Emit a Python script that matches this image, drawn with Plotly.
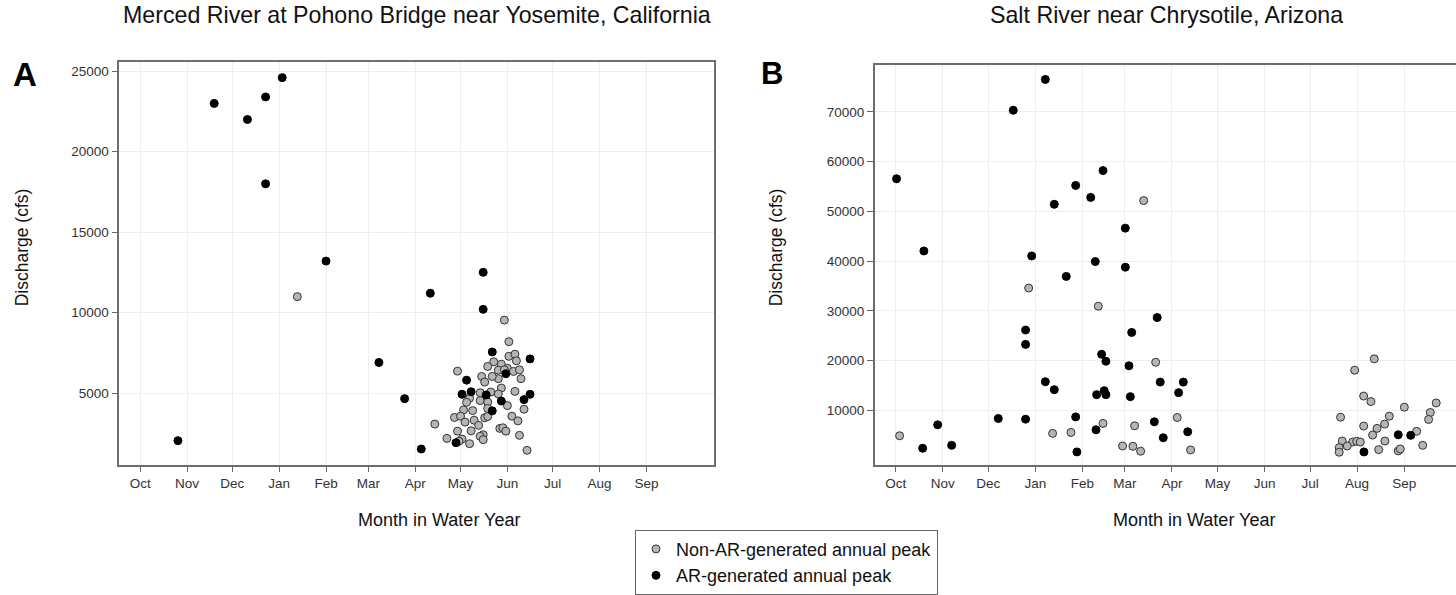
import plotly.graph_objects as go

# ---------------- data (x = day of water year, 0 = Oct 1) ----------------
month_labels = ["Oct", "Nov", "Dec", "Jan", "Feb", "Mar", "Apr", "May", "Jun", "Jul", "Aug", "Sep"]
month_start_days = [0, 31, 61, 92, 123, 151, 182, 212, 243, 273, 304, 335]

a_yticks = [5000, 10000, 15000, 20000, 25000]
b_yticks = [10000, 20000, 30000, 40000, 50000, 60000, 70000]

# Panel A: Merced River
a_ar_day = [25, 49, 71, 83, 83, 94, 123, 158, 175, 186, 192, 227, 227, 233, 258, 242, 216, 213,
            219, 229, 239, 233, 254, 258, 209]
a_ar_q = [2040, 23000, 22000, 23400, 18000, 24600, 13200, 6900, 4650, 1520, 11200, 12500, 10200,
          7550, 7120, 6200, 5800, 4920, 5080, 4880, 4500, 3890, 4590, 4920, 1910]

a_non_day = [104, 241, 244, 244, 248, 249, 234, 230, 239, 237, 243, 247, 251, 252, 210, 226, 228,
             237, 233, 239, 248, 237, 225, 232, 218, 216, 225, 230, 243, 254, 214, 220, 230, 208,
             212, 215, 221, 228, 230, 246, 250, 195, 224, 219, 227, 225, 227, 210, 203, 213, 211,
             238, 240, 242, 251, 218, 256, 241]
a_non_q = [10990, 9530, 8190, 7280, 7410, 7000, 6940, 6650, 6790, 6420, 6540, 6340, 6440, 5890,
           6360, 6030, 5680, 5890, 6030, 5310, 5100, 4940, 5020, 5060, 4670, 4420, 4530, 4440,
           4220, 3990, 3950, 3910, 4040, 3480, 3560, 3190, 3310, 3460, 3540, 3560, 3270, 3070,
           2990, 2650, 2410, 2310, 2100, 2630, 2180, 2140, 2000, 2800, 2840, 2630, 2370, 1850,
           1440, 6440]

# Panel B: Salt River
b_ar_day = [0.6, 18.6, 17.8, 27.7, 36.9, 67.6, 77.5, 85.6, 85.6, 85.6, 89.6, 98.6, 98.6, 104.5,
            104.5, 112.4, 118.6, 118.6, 119.4, 128.5, 131.5, 132.0, 135.7, 136.6, 138.5, 132.4,
            137.4, 138.5, 151.3, 151.3, 153.7, 154.6, 155.5, 170.4, 172.3, 174.3, 176.3, 186.4,
            189.5, 192.4, 308.5, 331.1, 339.3]
b_ar_q = [56570, 42060, 2420, 7130, 3010, 8400, 70340, 26170, 23290, 8260, 41060, 76530, 15790,
          51440, 14190, 36950, 55230, 8720, 1680, 52830, 39940, 6130, 21300, 58220, 19900, 13190,
          13990, 13190, 46650, 38800, 18980, 12790, 25690, 7730, 28680, 15710, 4530, 13590,
          15710, 5730, 1680, 5130, 5010]

b_non_day = [2.6, 87.6, 103.4, 115.5, 133.5, 136.6, 149.5, 156.3, 157.4, 161.4, 163.4, 171.3,
             185.5, 194.3, 315.3, 302.4, 308.3, 313.1, 335.1, 356.1, 352.2, 351.1, 293.1, 325.2,
             322.1, 308.3, 317.1, 314.2, 343.2, 322.3, 294.2, 301.1, 303.7, 306.1, 297.5, 292.2,
             292.2, 318.2, 331.1, 332.4, 347.2]
b_non_q = [4930, 34610, 5410, 5590, 30960, 7410, 2870, 2810, 6930, 1820, 52180, 19700, 8600, 2080,
           20380, 18100, 12910, 11800, 10660, 11520, 9600, 8200, 8660, 8860, 7270, 6870, 6410,
           5070, 5810, 3870, 3870, 3670, 3810, 3670, 2870, 2540, 1620, 2140, 1880, 2280, 3010]

# ---------------- styling ----------------
W, H = 1456, 595
FONT = "Liberation Sans, Arial, sans-serif"
GRAY_FILL = "#b5b5b5"
MSIZE = 8

def px_x(v):
    return v / W

def px_y(v):
    return 1 - v / H

fig = go.Figure()

fig.add_trace(go.Scatter(x=a_non_day, y=a_non_q, mode="markers", name="Non-AR-generated annual peak",
                         legendgroup="non", marker=dict(size=MSIZE, color=GRAY_FILL,
                         line=dict(color="#333333", width=1)), xaxis="x", yaxis="y"))
fig.add_trace(go.Scatter(x=a_ar_day, y=a_ar_q, mode="markers", name="AR-generated annual peak",
                         legendgroup="ar", marker=dict(size=MSIZE, color="#000000",
                         line=dict(color="#000000", width=1)), xaxis="x", yaxis="y"))
fig.add_trace(go.Scatter(x=b_non_day, y=b_non_q, mode="markers", name="Non-AR-generated annual peak",
                         legendgroup="non", showlegend=False, marker=dict(size=MSIZE, color=GRAY_FILL,
                         line=dict(color="#333333", width=1)), xaxis="x2", yaxis="y2"))
fig.add_trace(go.Scatter(x=b_ar_day, y=b_ar_q, mode="markers", name="AR-generated annual peak",
                         legendgroup="ar", showlegend=False, marker=dict(size=MSIZE, color="#000000",
                         line=dict(color="#000000", width=1)), xaxis="x2", yaxis="y2"))

common_x = dict(tickvals=month_start_days, ticktext=month_labels, ticks="outside", ticklen=5,
                tickcolor="#666666", showline=True, linecolor="#6e6e6e", linewidth=1.5,
                showgrid=True, gridcolor="#eeeeee", gridwidth=1, zeroline=False,
                tickfont=dict(family=FONT, size=13.5, color="#333333"))
common_y = dict(ticks="outside", ticklen=6, tickcolor="#666666", showline=True,
                linecolor="#6e6e6e", linewidth=1.5, showgrid=True, gridcolor="#eeeeee",
                gridwidth=1, zeroline=False, tickfont=dict(family=FONT, size=13.5, color="#333333"))

# panel geometry (pixels)
a_left, a_right, a_top, bottom = 119.3, 713.5, 62.7, 468.0
b_left, b_top = 874.7, 65.0
px_per_day = 1.518
b_right_day = (W - b_left) / px_per_day - 13.8

fig.update_layout(
    width=W, height=H, margin=dict(l=0, r=0, t=0, b=0),
    paper_bgcolor="white", plot_bgcolor="white",
    font=dict(family=FONT, color="#000000"),
    xaxis=dict(domain=[px_x(a_left), px_x(a_right)], range=[-13.8, 379.4], anchor="y",
               mirror=True, **common_x),
    yaxis=dict(domain=[px_y(bottom), px_y(a_top)], range=[535, 25554], anchor="x",
               tickvals=a_yticks, ticktext=[str(v) for v in a_yticks], mirror=True, **common_y),
    xaxis2=dict(domain=[px_x(b_left), 1.0], range=[-13.8, b_right_day], anchor="y2",
                mirror=True, **common_x),
    yaxis2=dict(domain=[px_y(bottom), px_y(b_top)], range=[-918, 79520], anchor="x2",
                tickvals=b_yticks, ticktext=[str(v) for v in b_yticks], mirror=False, **common_y),
    legend=dict(x=px_x(635), y=px_y(533.3), xanchor="left", yanchor="top",
                bordercolor="#666666", borderwidth=1, bgcolor="white",
                font=dict(family=FONT, size=18, color="#111111"), tracegroupgap=0),
    showlegend=True,
)

ann = []
# titles
ann.append(dict(text="Merced River at Pohono Bridge near Yosemite, California", x=px_x(416.5),
                y=px_y(15), xref="paper", yref="paper", xanchor="center", yanchor="middle",
                showarrow=False, font=dict(family=FONT, size=23.2, color="#111111")))
ann.append(dict(text="Salt River near Chrysotile, Arizona", x=px_x(1166), y=px_y(15),
                xref="paper", yref="paper", xanchor="center", yanchor="middle",
                showarrow=False, font=dict(family=FONT, size=23.2, color="#111111")))
# panel letters
ann.append(dict(text="<b>A</b>", x=px_x(25), y=px_y(75), xref="paper", yref="paper",
                xanchor="center", yanchor="middle", showarrow=False,
                font=dict(family=FONT, size=33, color="#000000")))
ann.append(dict(text="<b>B</b>", x=px_x(772), y=px_y(74), xref="paper", yref="paper",
                xanchor="center", yanchor="middle", showarrow=False,
                font=dict(family=FONT, size=31, color="#000000")))
# axis titles
for xc in (439, 1194):
    ann.append(dict(text="Month in Water Year", x=px_x(xc), y=px_y(524), xref="paper",
                    yref="paper", xanchor="center", yanchor="middle", showarrow=False,
                    font=dict(family=FONT, size=18, color="#111111")))
for xc in (22, 776):
    ann.append(dict(text="Discharge (cfs)", x=px_x(xc), y=px_y(249), xref="paper",
                    yref="paper", xanchor="center", yanchor="middle", showarrow=False,
                    textangle=-90, font=dict(family=FONT, size=17.5, color="#111111")))
fig.update_layout(annotations=ann)

fig.write_html("out.html")
